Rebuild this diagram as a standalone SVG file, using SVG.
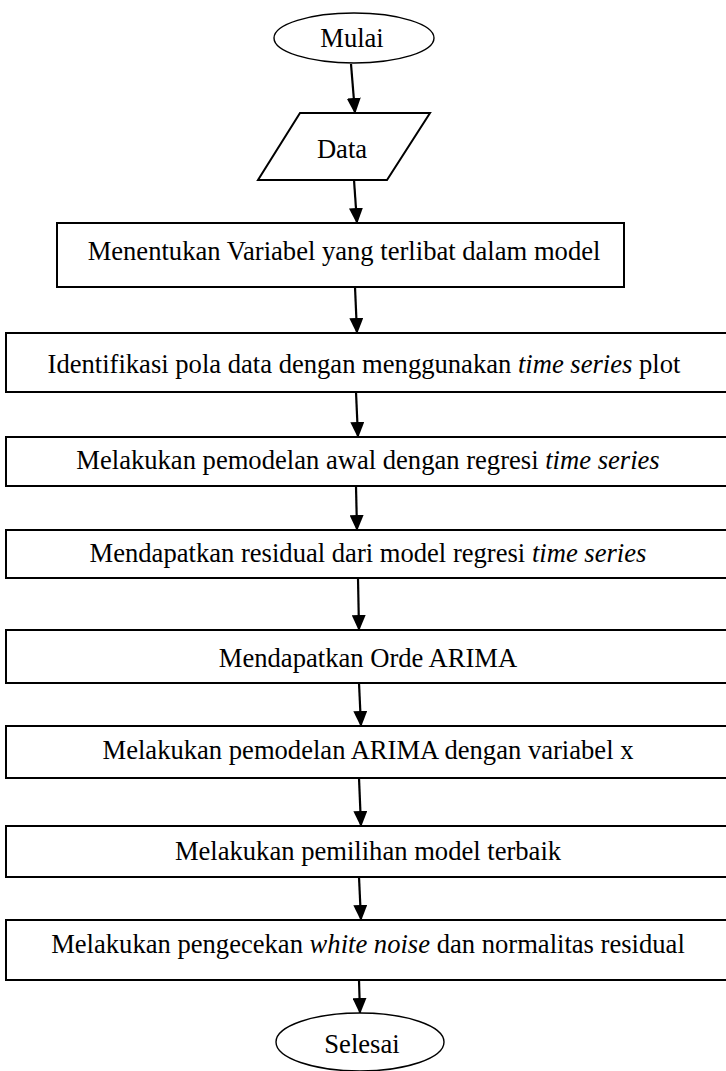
<svg xmlns="http://www.w3.org/2000/svg" width="726" height="1071" viewBox="0 0 726 1071">
<defs>
<style>
.sh{fill:#fff;stroke:#000;stroke-width:2}
.el{fill:#fff;stroke:#000;stroke-width:1.4}
.t{font-family:"Liberation Serif","Times New Roman",serif;font-size:26.6px;fill:#000;text-anchor:middle}
.c{stroke:#000;stroke-width:2.2;fill:none;marker-end:url(#ah)}
</style>
<marker id="ah" markerUnits="userSpaceOnUse" markerWidth="16" markerHeight="14" refX="15" refY="7" orient="auto" viewBox="0 0 16 14">
<path d="M0,0 L16,7 L0,14 z" fill="#000"/>
</marker>
</defs>
<rect width="726" height="1071" fill="#fff"/>
<g id="connectors">
<line class="c" x1="351" y1="64" x2="355" y2="113"/>
<line class="c" x1="354" y1="180" x2="357" y2="223"/>
<line class="c" x1="355" y1="287" x2="357" y2="333"/>
<line class="c" x1="356" y1="392" x2="358" y2="437"/>
<line class="c" x1="356" y1="486" x2="357" y2="530"/>
<line class="c" x1="358" y1="578" x2="359" y2="630"/>
<line class="c" x1="359" y1="683" x2="361" y2="726"/>
<line class="c" x1="359" y1="778" x2="361" y2="826"/>
<line class="c" x1="359" y1="877" x2="361" y2="920"/>
<line class="c" x1="359" y1="980" x2="360" y2="1013"/>
</g>
<g id="n-mulai">
<ellipse class="el" cx="354" cy="38" rx="80" ry="25"/>
<text class="t" x="352" y="47">Mulai</text>
</g>
<g id="n-data">
<polygon class="sh" points="300,113 430,113 387,180 258,180"/>
<text class="t" x="342" y="158">Data</text>
</g>
<g id="n-variabel">
<rect class="sh" x="57" y="223" width="567" height="64"/>
<text class="t" x="344" y="260">Menentukan Variabel yang terlibat dalam model</text>
</g>
<g id="n-identifikasi">
<rect class="sh" x="6" y="333" width="730" height="59"/>
<text class="t" x="364" y="373">Identifikasi pola data dengan menggunakan <tspan font-style="italic">time series</tspan> plot</text>
</g>
<g id="n-pemodelan-awal">
<rect class="sh" x="6" y="437" width="730" height="49"/>
<text class="t" x="368" y="469">Melakukan pemodelan awal dengan regresi <tspan font-style="italic">time series</tspan></text>
</g>
<g id="n-residual">
<rect class="sh" x="6" y="530" width="730" height="48"/>
<text class="t" x="368" y="562">Mendapatkan residual dari model regresi <tspan font-style="italic">time series</tspan></text>
</g>
<g id="n-orde">
<rect class="sh" x="6" y="630" width="730" height="53"/>
<text class="t" x="368" y="667">Mendapatkan Orde ARIMA</text>
</g>
<g id="n-arima-x">
<rect class="sh" x="6" y="726" width="730" height="52"/>
<text class="t" x="368" y="759">Melakukan pemodelan ARIMA dengan variabel x</text>
</g>
<g id="n-pemilihan">
<rect class="sh" x="6" y="826" width="730" height="51"/>
<text class="t" x="368" y="860">Melakukan pemilihan model terbaik</text>
</g>
<g id="n-pengecekan">
<rect class="sh" x="6" y="920" width="730" height="60"/>
<text class="t" x="368" y="953">Melakukan pengecekan <tspan font-style="italic">white noise</tspan> dan normalitas residual</text>
</g>
<g id="n-selesai">
<ellipse class="el" cx="360" cy="1042" rx="84" ry="29"/>
<text class="t" x="362" y="1053">Selesai</text>
</g>
</svg>
